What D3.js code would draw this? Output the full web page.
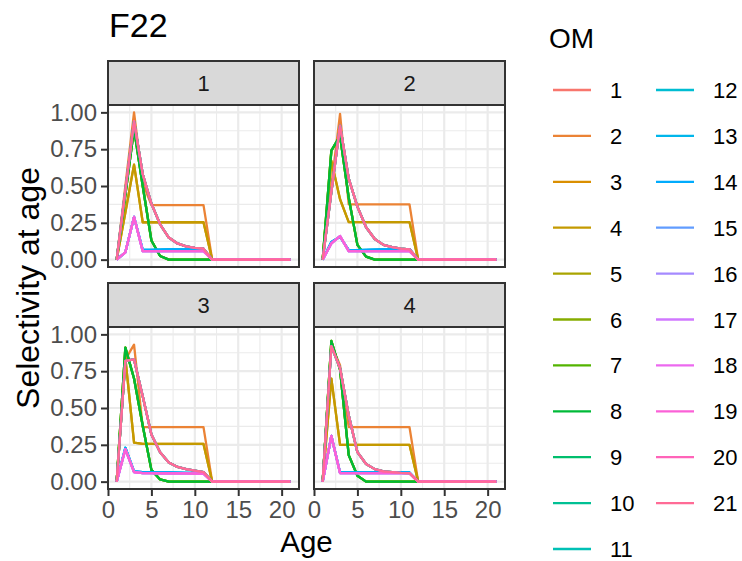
<!DOCTYPE html>
<html><head><meta charset="utf-8">
<script src="https://cdn.jsdelivr.net/npm/d3@7"></script>
<style>body{margin:0;background:#fff;} svg{display:block;font-family:"Liberation Sans",Arial,sans-serif;}</style>
</head><body>
<svg id="c" width="742" height="561"></svg>
<script>
// ---------------- DATA ----------------
const ages = [1,2,3,4,5,6,7,8,9,10,11,12,13,14,15,16,17,18,19,20,21];
const facets = ["1","2","3","4"];
const oms = ["1","2","3","4","5","6","7","8","9","10","11","12","13","14","15","16","17","18","19","20","21"];
const xTicks = [0,5,10,15,20];
const yTicks = [0,0.25,0.5,0.75,1];
const yTickLabels = ["0.00","0.25","0.50","0.75","1.00"];

// selectivity shapes read from each facet (values at ages 1..21)
const f1Pink    = [0,0.47,0.94,0.58,0.38,0.24,0.15,0.11,0.09,0.08,0.075,0,0,0,0,0,0,0,0,0,0];
const f1Orange  = [0,0.5,1.0,0.52,0.37,0.37,0.37,0.37,0.37,0.37,0.37,0,0,0,0,0,0,0,0,0,0];
const f1Gold    = [0,0.32,0.645,0.254,0.254,0.254,0.254,0.254,0.254,0.254,0.254,0,0,0,0,0,0,0,0,0,0];
const f1Green   = [0,0.44,0.89,0.5,0.13,0.025,0,0,0,0,0,0,0,0,0,0,0,0,0,0,0];
const f1Blue    = [0,0.05,0.29,0.066,0.066,0.068,0.07,0.07,0.07,0.07,0.07,0,0,0,0,0,0,0,0,0,0];
const f1Magenta = [0,0.05,0.29,0.058,0.058,0.058,0.058,0.058,0.058,0.058,0.058,0,0,0,0,0,0,0,0,0,0];

const f2Pink    = [0,0.46,0.91,0.55,0.36,0.22,0.14,0.1,0.085,0.075,0.07,0,0,0,0,0,0,0,0,0,0];
const f2Orange  = [0,0.5,0.99,0.375,0.375,0.375,0.375,0.375,0.375,0.375,0.375,0,0,0,0,0,0,0,0,0,0];
const f2Gold    = [0,0.67,0.41,0.255,0.255,0.255,0.255,0.255,0.255,0.255,0.255,0,0,0,0,0,0,0,0,0,0];
const f2Green   = [0,0.74,0.84,0.42,0.1,0.02,0,0,0,0,0,0,0,0,0,0,0,0,0,0,0];
const f2Blue    = [0,0.12,0.155,0.065,0.065,0.066,0.068,0.07,0.07,0.07,0.07,0,0,0,0,0,0,0,0,0,0];
const f2Magenta = [0,0.11,0.16,0.058,0.058,0.058,0.058,0.058,0.058,0.058,0.058,0,0,0,0,0,0,0,0,0,0];

const f3Pink    = [0,0.82,0.83,0.58,0.32,0.2,0.13,0.1,0.085,0.075,0.065,0,0,0,0,0,0,0,0,0,0];
const f3Orange  = [0,0.83,0.93,0.37,0.37,0.37,0.37,0.37,0.37,0.37,0.37,0,0,0,0,0,0,0,0,0,0];
const f3Gold    = [0,0.84,0.265,0.256,0.256,0.256,0.256,0.256,0.256,0.256,0.256,0,0,0,0,0,0,0,0,0,0];
const f3Green   = [0,0.91,0.7,0.38,0.08,0.015,0,0,0,0,0,0,0,0,0,0,0,0,0,0,0];
const f3Blue    = [0,0.23,0.07,0.065,0.064,0.063,0.062,0.061,0.06,0.06,0.06,0,0,0,0,0,0,0,0,0,0];
const f3Magenta = [0,0.22,0.065,0.058,0.058,0.057,0.057,0.056,0.056,0.055,0.055,0,0,0,0,0,0,0,0,0,0];

const f4Pink    = [0,0.92,0.77,0.45,0.2,0.12,0.085,0.07,0.065,0.06,0.058,0,0,0,0,0,0,0,0,0,0];
const f4Orange  = [0,0.93,0.79,0.37,0.37,0.37,0.37,0.37,0.37,0.37,0.37,0,0,0,0,0,0,0,0,0,0];
const f4Gold    = [0,0.7,0.25,0.25,0.25,0.25,0.25,0.25,0.25,0.25,0.25,0,0,0,0,0,0,0,0,0,0];
const f4Green   = [0,0.955,0.76,0.18,0.04,0,0,0,0,0,0,0,0,0,0,0,0,0,0,0,0];
const f4Blue    = [0,0.31,0.062,0.062,0.062,0.062,0.062,0.062,0.062,0.062,0.062,0,0,0,0,0,0,0,0,0,0];
const f4Magenta = [0,0.31,0.058,0.058,0.058,0.058,0.058,0.058,0.058,0.058,0.058,0,0,0,0,0,0,0,0,0,0];

const shapesByFacet = [
  {pink:f1Pink, orange:f1Orange, gold:f1Gold, green:f1Green, blue:f1Blue, magenta:f1Magenta},
  {pink:f2Pink, orange:f2Orange, gold:f2Gold, green:f2Green, blue:f2Blue, magenta:f2Magenta},
  {pink:f3Pink, orange:f3Orange, gold:f3Gold, green:f3Green, blue:f3Blue, magenta:f3Magenta},
  {pink:f4Pink, orange:f4Orange, gold:f4Gold, green:f4Green, blue:f4Blue, magenta:f4Magenta}
];
// which shape each OM follows (most OMs overlap exactly)
const omShape = ["pink","orange","gold","gold","green","green","green","green","pink","pink","pink",
                 "blue","blue","blue","magenta","magenta","magenta","magenta","magenta","pink","pink"];

// ---------------- COLOURS (ggplot hue palette, polarLUV) ----------------
function hclLuv(h, c, l) {
  const WX = 95.047, WY = 100, WZ = 108.883;
  const hr = h * Math.PI / 180;
  const U = c * Math.cos(hr), V = c * Math.sin(hr);
  const Y = WY * (l > 7.999592 ? Math.pow((l + 16) / 116, 3) : l / 903.3);
  const den = WX + 15 * WY + 3 * WZ;
  const un = 4 * WX / den, vn = 9 * WY / den;
  const uu = U / (13 * l) + un, vv = V / (13 * l) + vn;
  const X = 9 * Y * uu / (4 * vv);
  const Z = -X / 3 - 5 * Y + 3 * Y / vv;
  const x = X / 100, y = Y / 100, z = Z / 100;
  const lin = [3.240479*x - 1.537150*y - 0.498535*z,
               -0.969256*x + 1.875992*y + 0.041556*z,
               0.055648*x - 0.204043*y + 1.057311*z];
  const g = lin.map(v => { v = v <= 0.0031308 ? 12.92 * v : 1.055 * Math.pow(v, 1 / 2.4) - 0.055;
    return Math.round(255 * Math.max(0, Math.min(1, v))); });
  return d3.rgb(g[0], g[1], g[2]).formatHex();
}
const colors = oms.map((_, i) => hclLuv(15 + i * 360 / oms.length, 100, 65));

// ---------------- LAYOUT ----------------
const svg = d3.select("#c");
const cols = [[108, 299], [314, 505]];
const rows = [{s0:61, p0:105, p1:267}, {s0:283, p0:327, p1:489}];
const grey20 = "#333333";

svg.append("text").attr("x", 109).attr("y", 37).attr("font-size", 34).attr("fill", "#000").text("F22");

facets.forEach((f, fi) => {
  const c = cols[fi % 2], r = rows[Math.floor(fi / 2)];
  const x = d3.scaleLinear().domain([0, 22]).range([c[0], c[1]]);
  const y = d3.scaleLinear().domain([-0.05, 1.05]).range([r.p1, r.p0]);
  const g = svg.append("g");
  // strip
  g.append("rect").attr("x", c[0]).attr("y", r.s0).attr("width", c[1]-c[0]).attr("height", r.p0-r.s0)
    .attr("fill", "#D9D9D9").attr("stroke", grey20).attr("stroke-width", 2);
  g.append("text").attr("x", (c[0]+c[1])/2).attr("y", (r.s0+r.p0)/2 + 8).attr("text-anchor", "middle")
    .attr("font-size", 22).attr("fill", "#1A1A1A").text(f);
  // panel bg
  g.append("rect").attr("x", c[0]).attr("y", r.p0).attr("width", c[1]-c[0]).attr("height", r.p1-r.p0).attr("fill", "#fff");
  // minor grid
  [2.5, 7.5, 12.5, 17.5].forEach(v => g.append("line").attr("x1", x(v)).attr("x2", x(v)).attr("y1", r.p0).attr("y2", r.p1)
    .attr("stroke", "#EBEBEB").attr("stroke-width", 1.1));
  [0.125, 0.375, 0.625, 0.875].forEach(v => g.append("line").attr("y1", y(v)).attr("y2", y(v)).attr("x1", c[0]).attr("x2", c[1])
    .attr("stroke", "#EBEBEB").attr("stroke-width", 1.1));
  xTicks.forEach(v => g.append("line").attr("x1", x(v)).attr("x2", x(v)).attr("y1", r.p0).attr("y2", r.p1)
    .attr("stroke", "#EBEBEB").attr("stroke-width", 2.2));
  yTicks.forEach(v => g.append("line").attr("y1", y(v)).attr("y2", y(v)).attr("x1", c[0]).attr("x2", c[1])
    .attr("stroke", "#EBEBEB").attr("stroke-width", 2.2));
  // lines
  const line = d3.line().x(d => x(d[0])).y(d => y(d[1]));
  oms.forEach((om, i) => {
    const vals = shapesByFacet[fi][omShape[i]];
    g.append("path").datum(ages.map((a, k) => [a, vals[k]])).attr("d", line)
      .attr("fill", "none").attr("stroke", colors[i]).attr("stroke-width", 2.3).attr("stroke-linejoin", "round");
  });
  // border
  g.append("rect").attr("x", c[0]).attr("y", r.p0).attr("width", c[1]-c[0]).attr("height", r.p1-r.p0)
    .attr("fill", "none").attr("stroke", grey20).attr("stroke-width", 2);
  // y axis on left column
  if (fi % 2 === 0) {
    const ya = g.append("g").attr("transform", `translate(${c[0]},0)`)
      .call(d3.axisLeft(y).tickValues(yTicks).tickFormat((d, k) => yTickLabels[k]).tickSizeOuter(0).tickSize(7).tickPadding(4));
    ya.select(".domain").remove();
    ya.selectAll("line").attr("stroke", grey20).attr("stroke-width", 2);
    ya.selectAll("text").attr("font-size", 24).attr("fill", "#4D4D4D").attr("font-family", "Liberation Sans, Arial, sans-serif");
  }
  // x axis on bottom row
  if (fi >= 2) {
    const xa = g.append("g").attr("transform", `translate(0,${r.p1})`)
      .call(d3.axisBottom(x).tickValues(xTicks).tickSizeOuter(0).tickSize(7).tickPadding(5));
    xa.select(".domain").remove();
    xa.selectAll("line").attr("stroke", grey20).attr("stroke-width", 2);
    xa.selectAll("text").attr("font-size", 24).attr("fill", "#4D4D4D").attr("font-family", "Liberation Sans, Arial, sans-serif");
  }
});

// axis titles
svg.append("text").attr("x", (cols[0][0] + cols[1][1]) / 2).attr("y", 552).attr("text-anchor", "middle")
  .attr("font-size", 29.5).attr("fill", "#000").text("Age");
svg.append("text").attr("transform", "translate(39,288) rotate(-90)").attr("text-anchor", "middle")
  .attr("font-size", 32).attr("fill", "#000").text("Selectivity at age");

// legend
svg.append("text").attr("x", 549).attr("y", 48).attr("font-size", 28).attr("fill", "#000").text("OM");
const leg = svg.append("g");
oms.forEach((om, i) => {
  const col = Math.floor(i / 11), row = i % 11;
  const cy = 90 + row * 45.9;
  const x0 = col === 0 ? 553 : 656;
  leg.append("line").attr("x1", x0).attr("x2", x0 + 38).attr("y1", cy).attr("y2", cy)
    .attr("stroke", colors[i]).attr("stroke-width", 2.3);
  leg.append("text").attr("x", x0 + 57).attr("y", cy + 8).attr("font-size", 22).attr("fill", "#000").text(om);
});
</script>
</body></html>
